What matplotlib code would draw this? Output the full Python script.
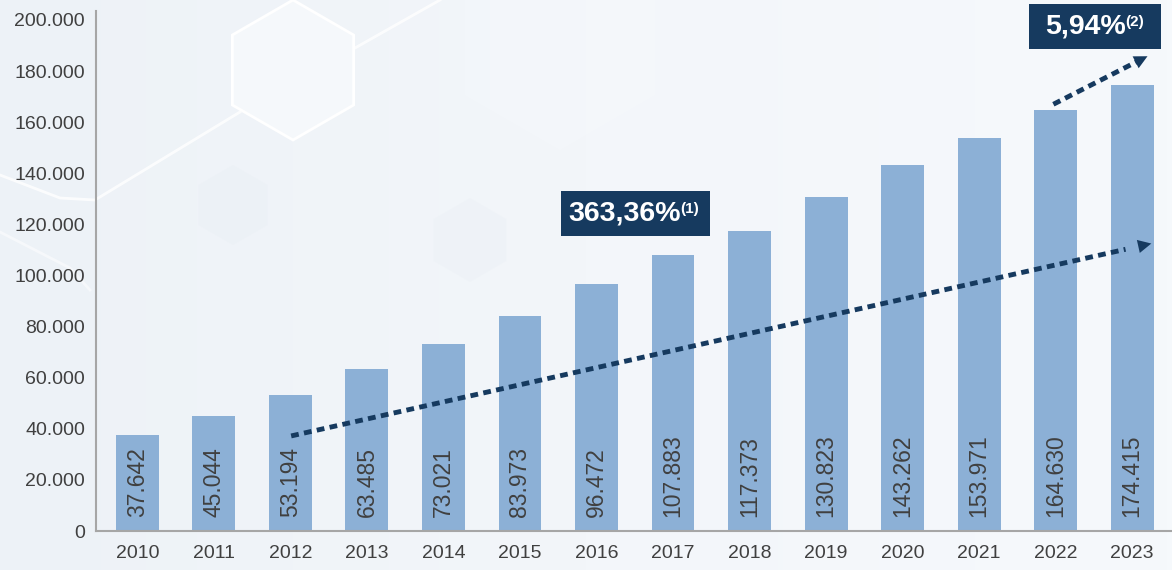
import numpy as np
import matplotlib
matplotlib.use("Agg")
import matplotlib.pyplot as plt
from matplotlib.patches import RegularPolygon, Rectangle

# Data
years = ['2010', '2011', '2012', '2013', '2014', '2015', '2016',
         '2017', '2018', '2019', '2020', '2021', '2022', '2023']
values = [37642, 45044, 53194, 63485, 73021, 83973, 96472,
          107883, 117373, 130823, 143262, 153971, 164630, 174415]
value_labels = ['37.642', '45.044', '53.194', '63.485', '73.021', '83.973', '96.472',
                '107.883', '117.373', '130.823', '143.262', '153.971', '164.630', '174.415']
yticks = [0, 20000, 40000, 60000, 80000, 100000, 120000, 140000, 160000, 180000, 200000]
ytick_labels = ['0', '20.000', '40.000', '60.000', '80.000', '100.000', '120.000',
                '140.000', '160.000', '180.000', '200.000']

BAR = '#8cb0d6'
NAVY = '#163a5f'
TXT = '#404040'

plt.rcParams['font.family'] = ['Liberation Sans', 'DejaVu Sans']

W, H = 1172, 570
fig = plt.figure(figsize=(W / 100, H / 100), dpi=100)
fig.patch.set_facecolor('#eff4f8')

# background decoration in pixel coords (image y flipped)
bg = fig.add_axes([0, 0, 1, 1], zorder=-5)
bg.set_xlim(0, W)
bg.set_ylim(0, H)
bg.axis('off')
grad = np.linspace(0, 1, 256).reshape(1, -1)
bg.imshow(grad, extent=[0, W, 0, H], aspect='auto',
          cmap=matplotlib.colors.LinearSegmentedColormap.from_list(
              'bg', ['#edf2f7', '#f3f6fa', '#f6f9fc']), zorder=0)
hexes = [
    ((293, 70), 70, '#f5f8fb', 1.0, 2.0),
    ((233, 205), 40, '#e8eef4', 0.35, 0),
    ((470, 240), 42, '#e8eef4', 0.3, 0),
    ((560, 40), 110, '#f6f9fc', 0.4, 0),
    ((860, 10), 90, '#f6f9fc', 0.4, 0),
]
for (cx, cy), r, fc, a, lw in hexes:
    bg.add_patch(RegularPolygon((cx, H - cy), 6, radius=r, orientation=0,
                                facecolor=fc, edgecolor='white' if lw else 'none',
                                lw=lw, alpha=a, zorder=1))
bg.plot([0, 60, 95, 240], [H - 175, H - 198, H - 200, H - 112],
        color='white', lw=2, alpha=0.8, zorder=1)
bg.plot([355, 440], [H - 48, H - 0], color='white', lw=2, alpha=0.8, zorder=1)
bg.plot([0, 70, 90], [H - 232, H - 268, H - 290], color='white', lw=2, alpha=0.5, zorder=1)

ax = fig.add_axes([96 / W, 1 - 531 / H, 1 - 96 / W, 520 / H])
ax.patch.set_alpha(0)
x = np.arange(len(years))
ax.bar(x, values, width=0.56, color=BAR, zorder=2)

for xi, lab in zip(x, value_labels):
    ax.text(xi, 5500, lab, rotation=90, ha='center', va='bottom',
            fontsize=16.5, color=TXT, zorder=3)

ax.set_xlim(-0.54, 13.52)
ax.set_ylim(0, 203500)
ax.set_xticks(x)
ax.set_xticklabels(years, fontsize=14, color=TXT)
ax.set_yticks(yticks)
ax.set_yticklabels(ytick_labels, fontsize=14, color=TXT)
ax.tick_params(length=0, pad=8)
ax.tick_params(axis='x', pad=10)
for s in ['top', 'right']:
    ax.spines[s].set_visible(False)
for s in ['left', 'bottom']:
    ax.spines[s].set_color('#a6a6a6')
    ax.spines[s].set_linewidth(1.5)


def dotted_arrow(x0, y0, x1, y1):
    ax.plot([x0, x0 + (x1 - x0) * 0.97], [y0, y0 + (y1 - y0) * 0.97],
            color=NAVY, lw=3.5, linestyle=(0, (1.6, 1.1)), dash_capstyle='butt',
            zorder=4, clip_on=False)
    ax.annotate('', xy=(x1, y1), xytext=(x1 - (x1 - x0) * 0.05, y1 - (y1 - y0) * 0.05),
                arrowprops=dict(arrowstyle='-|>', mutation_scale=24, lw=0,
                                color=NAVY, shrinkA=0, shrinkB=0),
                zorder=4, annotation_clip=False)


dotted_arrow(2.01, 37200, 13.25, 112500)
dotted_arrow(11.97, 167000, 13.2, 185800)


def badge(x0, x1, y0, y1, main, sup, right_x):
    ax.add_patch(Rectangle((x0, y0), x1 - x0, y1 - y0, facecolor=NAVY,
                           edgecolor='none', zorder=5, clip_on=False))
    yc = (y0 + y1) / 2
    ax.text(right_x, yc, main, ha='right', va='center', fontsize=20.5,
            fontweight='bold', color='white', zorder=6, clip_on=False)
    ax.annotate(sup, xy=(right_x, yc), xytext=(-0.5, 3.5), textcoords='offset points',
                ha='left', va='center', fontsize=11, fontweight='bold',
                color='white', zorder=6, annotation_clip=False)


badge(5.54, 7.48, 115460, 133070, '363,36%', '(1)', 7.1)
badge(11.65, 13.37, 188650, 206260, '5,94%', '(2)', 12.92)

fig.savefig('out.png', dpi=100, facecolor=fig.get_facecolor())
